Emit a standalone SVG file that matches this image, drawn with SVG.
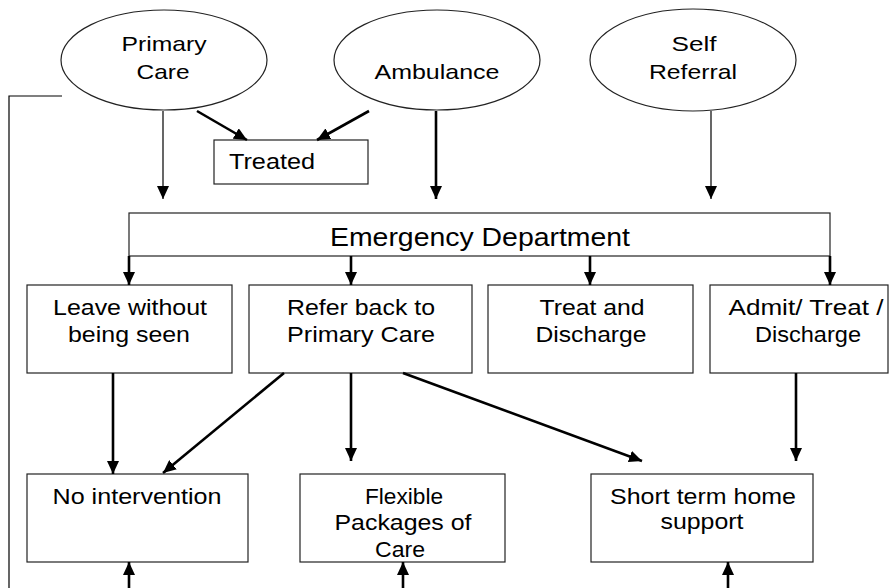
<svg xmlns="http://www.w3.org/2000/svg" width="889" height="588" viewBox="0 0 889 588">
<defs>
<style>
.t{font-family:"Liberation Sans",Arial,sans-serif;fill:#000;text-anchor:middle}
.e{font-size:21px}
.b{font-size:22px}
.shape{fill:#fff;stroke:#222;stroke-width:1.2}
.thick{stroke:#000;stroke-width:2.6;fill:none}
.thin{stroke:#000;stroke-width:1.2;fill:none}
</style>
<marker id="ah" viewBox="0 0 13 12" markerUnits="userSpaceOnUse" markerWidth="13" markerHeight="12" refX="13" refY="6" orient="auto">
<path d="M0,0 L13,6 L0,12 z" fill="#000"/>
</marker>
</defs>
<rect width="889" height="588" fill="#fff"/>

<g id="primary-care">
<ellipse class="shape" cx="164" cy="60" rx="103" ry="50"/>
<text class="t e" x="164" y="51" textLength="85" lengthAdjust="spacingAndGlyphs">Primary</text>
<text class="t e" x="163" y="79" textLength="53" lengthAdjust="spacingAndGlyphs">Care</text>
</g>
<g id="ambulance">
<ellipse class="shape" cx="437" cy="60" rx="103" ry="50"/>
<text class="t e" x="437" y="79" textLength="125" lengthAdjust="spacingAndGlyphs">Ambulance</text>
</g>
<g id="self-referral">
<ellipse class="shape" cx="693" cy="60" rx="103" ry="51"/>
<text class="t e" x="694" y="51" textLength="45" lengthAdjust="spacingAndGlyphs">Self</text>
<text class="t e" x="693" y="79" textLength="88" lengthAdjust="spacingAndGlyphs">Referral</text>
</g>
<g id="treated">
<rect class="shape" x="214" y="140" width="154" height="44"/>
<text class="t b" x="272" y="169" textLength="86" lengthAdjust="spacingAndGlyphs">Treated</text>
</g>
<g id="emergency-department">
<rect class="shape" x="129" y="213" width="701" height="43"/>
<text class="t" style="font-size:25px" x="480" y="246" textLength="300" lengthAdjust="spacingAndGlyphs">Emergency Department</text>
</g>
<g id="leave-without">
<rect class="shape" x="27" y="285" width="205" height="88"/>
<text class="t b" x="130" y="315" textLength="154" lengthAdjust="spacingAndGlyphs">Leave without</text>
<text class="t b" x="129" y="342" textLength="122" lengthAdjust="spacingAndGlyphs">being seen</text>
</g>
<g id="refer-back">
<rect class="shape" x="249" y="285" width="223" height="88"/>
<text class="t b" x="361" y="315" textLength="148" lengthAdjust="spacingAndGlyphs">Refer back to</text>
<text class="t b" x="361" y="342" textLength="148" lengthAdjust="spacingAndGlyphs">Primary Care</text>
</g>
<g id="treat-discharge">
<rect class="shape" x="488" y="285" width="205" height="88"/>
<text class="t b" x="592" y="315" textLength="105" lengthAdjust="spacingAndGlyphs">Treat and</text>
<text class="t b" x="591" y="342" textLength="111" lengthAdjust="spacingAndGlyphs">Discharge</text>
</g>
<g id="admit-treat-discharge">
<rect class="shape" x="710" y="285" width="178" height="88"/>
<text class="t b" x="806" y="315" textLength="155" lengthAdjust="spacingAndGlyphs">Admit/ Treat /</text>
<text class="t b" x="808" y="342" textLength="106" lengthAdjust="spacingAndGlyphs">Discharge</text>
</g>
<g id="no-intervention">
<rect class="shape" x="27" y="474" width="221" height="88"/>
<text class="t b" x="137" y="504" textLength="169" lengthAdjust="spacingAndGlyphs">No intervention</text>
</g>
<g id="flexible-packages">
<rect class="shape" x="300" y="474" width="205" height="88"/>
<text class="t b" x="404" y="504" textLength="78" lengthAdjust="spacingAndGlyphs">Flexible</text>
<text class="t b" x="403" y="530" textLength="137" lengthAdjust="spacingAndGlyphs">Packages of</text>
<text class="t b" x="400" y="557" textLength="50" lengthAdjust="spacingAndGlyphs">Care</text>
</g>
<g id="short-term">
<rect class="shape" x="591" y="474" width="222" height="88"/>
<text class="t b" x="703" y="504" textLength="186" lengthAdjust="spacingAndGlyphs">Short term home</text>
<text class="t b" x="702" y="529" textLength="83" lengthAdjust="spacingAndGlyphs">support</text>
</g>

<g id="connectors">
<path class="thin" d="M163,111 V199" marker-end="url(#ah)"/>
<path class="thick" d="M197,111 L247,140" marker-end="url(#ah)"/>
<path class="thick" d="M369,111 L317,140" marker-end="url(#ah)"/>
<path class="thick" d="M436,111 V199" marker-end="url(#ah)"/>
<path class="thin" d="M711,111 V199" marker-end="url(#ah)"/>
<path class="thick" d="M129,256 V285" marker-end="url(#ah)"/>
<path class="thick" d="M351,256 V285" marker-end="url(#ah)"/>
<path class="thick" d="M590,256 V285" marker-end="url(#ah)"/>
<path class="thick" d="M830,256 V285" marker-end="url(#ah)"/>
<path class="thick" d="M113,373 V474" marker-end="url(#ah)"/>
<path class="thick" d="M284,373 L163,473" marker-end="url(#ah)"/>
<path class="thick" d="M351,373 V461" marker-end="url(#ah)"/>
<path class="thick" d="M403,373 L642,461" marker-end="url(#ah)"/>
<path class="thick" d="M796,373 V461" marker-end="url(#ah)"/>
<path class="thick" d="M129,588 V562" marker-end="url(#ah)"/>
<path class="thick" d="M403,588 V562" marker-end="url(#ah)"/>
<path class="thick" d="M728,588 V562" marker-end="url(#ah)"/>
<path class="thin" d="M62,96 H9 V588"/>
</g>
</svg>
